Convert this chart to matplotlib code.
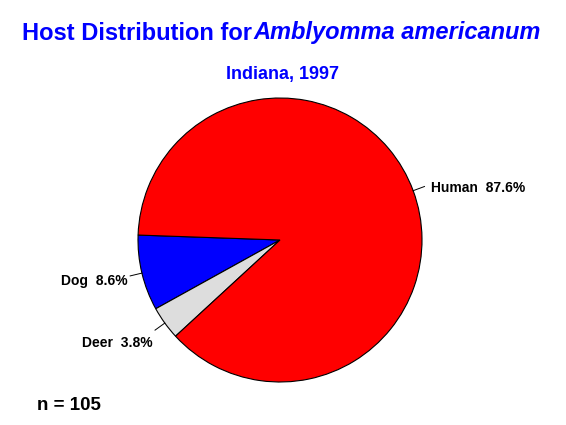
import numpy as np
import matplotlib
matplotlib.use("Agg")
import matplotlib.pyplot as plt

hosts = ["Dog", "Deer", "Human"]
percents = [8.6, 3.8, 87.6]
colors = ["#0000FF", "#DDDDDD", "#FF0000"]
n_total = 105

plt.rcParams['font.family'] = ['Liberation Sans', 'DejaVu Sans']

W, H = 566, 425
fig = plt.figure(figsize=(W / 100, H / 100), dpi=100)
ax = fig.add_axes([0, 0, 1, 1])

cx, cy, r = 280, H - 240, 142
start = 178
wedges, _ = ax.pie(percents, colors=colors, startangle=start, counterclock=True,
                   center=(cx, cy), radius=r, frame=True,
                   wedgeprops=dict(edgecolor='black', linewidth=0.8))
ax.set_xlim(0, W)
ax.set_ylim(0, H)
ax.set_aspect('equal')
ax.axis('off')

# labels with short leader lines
text_shift = {"Dog": (-3, -5), "Deer": (-2, -13), "Human": (7, -2)}
for w, name, pct in zip(wedges, hosts, percents):
    ang = np.deg2rad((w.theta1 + w.theta2) / 2)
    x0, y0 = cx + r * np.cos(ang), cy + r * np.sin(ang)
    x1, y1 = cx + 1.085 * r * np.cos(ang), cy + 1.085 * r * np.sin(ang)
    ax.plot([x0, x1], [y0, y1], color='black', lw=0.7)
    dx, dy = text_shift[name]
    ha = 'left' if np.cos(ang) > 0 else 'right'
    ax.text(x1 + dx, y1 + dy, f"{name}  {pct:.1f}%", ha=ha, va='center',
            fontsize=10, fontweight='bold')

# title: plain part then italic species name
t1 = fig.text(22 / W, 1 - 33 / H, "Host Distribution for", color='#0000FF',
              fontsize=17, fontweight='bold', va='center', ha='left')
fig.canvas.draw()
bb = t1.get_window_extent()
fig.text(bb.x1 / W + 0.002, 1 - 33 / H, "Amblyomma americanum", color='#0000FF',
         fontsize=17, fontweight='bold', style='italic', va='center', ha='left')

fig.text(282 / W, 1 - 74 / H, "Indiana, 1997", color='#0000FF',
         fontsize=13, fontweight='bold', ha='center', va='center')

fig.text(37 / W, 1 - 405 / H, f"n = {n_total}", color='black',
         fontsize=13.5, fontweight='bold', ha='left', va='center')

fig.savefig("out.png", dpi=100, facecolor='white')
